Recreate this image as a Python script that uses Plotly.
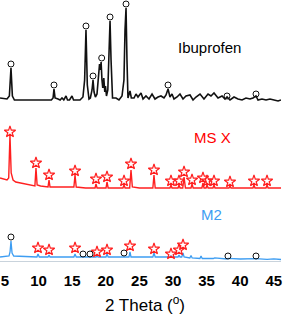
import numpy as np
import plotly.graph_objects as go

# ---------------- data (2-theta in degrees, intensity above each trace's own baseline) ----
ibu_x = [4.26, 5.30, 5.65, 5.89, 6.10, 6.40, 11.90, 12.15, 12.29, 12.45, 12.89, 13.20, 13.48, 13.75,
         14.08, 14.30, 14.60, 14.97, 15.20, 16.16, 16.60, 16.85, 17.05, 17.25, 17.50, 17.70, 17.95,
         18.10, 18.25, 18.45, 18.69, 18.95, 19.07, 19.20, 19.30, 19.43, 19.55, 19.70, 19.85, 19.95,
         20.10, 20.30, 20.48, 20.63, 20.78, 21.00, 21.52, 21.96, 22.41, 22.70, 22.86, 23.01, 23.15,
         23.30, 23.60, 23.80, 24.20, 24.49, 24.79, 25.24, 25.54, 25.98, 26.43, 26.88, 27.32, 27.77,
         28.21, 28.66, 28.96, 29.26, 29.55, 29.85, 30.15, 30.60, 31.04, 31.49, 31.93, 32.53, 32.98,
         33.42, 34.02, 34.61, 35.21, 35.65, 36.10, 36.70, 37.30, 37.74, 38.04, 38.48, 39.08, 39.67,
         40.27, 40.86, 41.46, 41.90, 42.35, 42.65, 43.24, 43.84, 44.43, 45.03, 45.63, 46.07]
ibu_y = [2, 1, 4, 32, 4, 0, 0, 2, 11, 2, 1, 0, 2, 0,
         4, 0, 0, 4, 0, 0, 3, 20, 70, 15, 1, 2, 10,
         20, 8, 3, 6, 30, 36, 30, 38, 20, 12, 22, 8, 14,
         4, 10, 60, 79, 40, 2, 2, 0, 4, 20, 70, 92, 40,
         2, 9, 2, 2, 6, 3, 7, 1, 4, 1, 6, 1, 3,
         4, 2, 5, 11, 3, 6, 1, 3, 6, 1, 4, 5, 0,
         3, 6, 1, 6, 4, 7, 2, 4, 1, 3, 0, 3, 1,
         0, 2, 1, 2, 4, 0, 1, 0, 1, 0, -1, 0]
ibu_mark_x = [5.89, 12.29, 17.05, 18.10, 19.39, 20.63, 23.01, 29.26, 38.04, 42.35]
ibu_mark_y = [36, 15, 74, 24, 42, 83, 96, 15, 4, 6]

msx_x = [4.26, 5.30, 5.55, 5.74, 5.92, 6.20, 6.60, 7.23, 8.72, 9.45, 9.61, 9.78, 10.30, 11.40,
         11.55, 11.70, 13.00, 15.25, 15.42, 15.60, 17.00, 18.40, 18.54, 18.70, 20.03, 20.18, 20.35,
         22.55, 22.71, 22.87, 23.55, 23.75, 23.95, 25.00, 27.00, 27.17, 27.35, 29.55, 29.70, 29.85,
         30.75, 30.89, 31.05, 31.45, 31.64, 31.85, 32.68, 32.83, 33.00, 34.30, 34.46, 34.62, 34.92,
         35.06, 35.22, 35.95, 36.10, 36.25, 38.33, 38.48, 38.63, 41.90, 42.05, 42.20, 43.84, 43.99,
         44.15, 46.07]
msx_y = [10, 8, 10, 53, 15, 8, 6, 5, 3, 2, 20, 3, 2, 1,
         8, 1, 1, 1, 13, 1, 0, 0, 4, 0, 0, 6, 0,
         0, 3, 0, 0, 18, 1, 0, 0, 13, 0, 0, 3, 0,
         0, 3, 0, 0, 11, 0, 0, 4, 0, 0, 5, 0, 0,
         3, 0, 0, 3, 0, 0, 2, 0, 0, 3, 0, 0, 3,
         0, 0]
msx_mark_x = [5.74, 9.61, 11.55, 15.42, 18.54, 20.18, 22.71, 23.75, 27.17, 29.70, 30.89, 31.64,
              32.83, 34.46, 35.06, 36.10, 38.48, 42.05, 43.99]
msx_mark_y = [56, 25, 13, 17, 9, 11, 7, 24, 18, 7, 7, 16, 8, 10, 7, 7, 6, 7, 7]

m2_x = [4.26, 5.60, 5.75, 5.89, 6.05, 6.30, 9.75, 9.91, 10.10, 11.40, 11.55, 11.70, 15.25, 15.42,
        15.60, 18.55, 18.69, 18.85, 20.03, 20.18, 20.35, 23.45, 23.60, 23.75, 27.00, 27.17, 27.35,
        29.55, 29.70, 29.85, 30.75, 30.89, 31.05, 31.30, 31.49, 31.65, 32.50, 32.68, 32.85, 34.00,
        34.17, 34.35, 36.00, 36.20, 38.00, 38.20, 40.00, 42.30, 44.00, 45.00, 46.07]
m2_y = [0, 1, 5, 16, 4, 1, 0, 3, 0, 0, 2, 0, 0, 3,
        0, 0, 1, 0, 0, 3, 0, 0, 5, 0, 0, 4, 0,
        0, 1, 0, 0, 2, 0, 0, 4, 0, -1, 1.5, -1, -1.5,
        1, -1.5, -1.5, -0.8, -2, -1.4, -2, -1.6, -2.3, -1.8, -2.5]
m2_star_x = [9.91, 11.55, 15.42, 18.69, 20.18, 23.60, 27.17, 29.70, 30.89, 31.49]
m2_star_y = [9, 7, 9, 5, 7, 11, 8, 3, 7, 12]
m2_circ_x = [5.89, 16.61, 17.65, 22.71, 38.18, 42.35]
m2_circ_y = [20, 3, 3, 4, 1, 1]

tick_vals = [5, 10, 15, 20, 25, 30, 35, 40, 45]
tick_text = ["5", "10", "15", "20", "25", "30", "35", "40", "45"]
labels = ["Ibuprofen", "MS X", "M2"]

# ---------------- styling / layout -------------
BLACK = "#111111"
RED = "#ff1f1f"
BLUE = "#3d9df2"
off_ibu, off_msx, off_m2 = 161, 73, 4

def shift(v, off):
    return (np.array(v, dtype=float) + off).tolist()

fig = go.Figure()
fig.add_trace(go.Scatter(x=ibu_x, y=shift(ibu_y, off_ibu), mode="lines",
                         line=dict(color=BLACK, width=1.6), hoverinfo="skip"))
fig.add_trace(go.Scatter(x=msx_x, y=shift(msx_y, off_msx), mode="lines",
                         line=dict(color=RED, width=1.4), hoverinfo="skip"))
fig.add_trace(go.Scatter(x=m2_x, y=shift(m2_y, off_m2), mode="lines",
                         line=dict(color=BLUE, width=1.3), hoverinfo="skip"))

circ = dict(symbol="circle-open", size=6, color=BLACK, line=dict(width=1, color=BLACK))
star = dict(symbol="star-open", size=8.5, color=RED, line=dict(width=1.2, color=RED))
fig.add_trace(go.Scatter(x=ibu_mark_x, y=shift(ibu_mark_y, off_ibu), mode="markers", marker=circ,
                         cliponaxis=False))
fig.add_trace(go.Scatter(x=msx_mark_x, y=shift(msx_mark_y, off_msx), mode="markers", marker=star))
fig.add_trace(go.Scatter(x=m2_star_x, y=shift(m2_star_y, off_m2), mode="markers", marker=star))
fig.add_trace(go.Scatter(x=m2_circ_x, y=shift(m2_circ_y, off_m2), mode="markers", marker=circ))

lab_font = "Arial, Liberation Sans, sans-serif"
for txt, xx, yy, col in [(labels[0], 35.5, 214, "#000000"),
                         (labels[1], 35.95, 124, "#ff0000"),
                         (labels[2], 35.8, 47, BLUE)]:
    fig.add_annotation(x=xx, y=yy, xref="x", yref="y", text=txt, showarrow=False,
                       font=dict(family=lab_font, size=15, color=col))

fig.add_annotation(x=25.83, y=(261 - 304) / 261, xref="x", yref="paper", yanchor="middle",
                   text="2 Theta (<sup>o</sup>)", showarrow=False,
                   font=dict(family=lab_font, size=17, color="#000000"))

fig.update_layout(
    width=286, height=318,
    margin=dict(l=0, r=5, t=0, b=57, autoexpand=False),
    paper_bgcolor="white", plot_bgcolor="white",
    showlegend=False,
    xaxis=dict(range=[4.256, 46.07], tickvals=tick_vals, ticktext=tick_text,
               showgrid=False, zeroline=False, showline=True, linecolor="#c9d3dc", linewidth=1,
               ticks="", automargin=False, ticklabelstandoff=6,
               tickfont=dict(family=lab_font, size=15, color="#000000", weight="bold")),
    yaxis=dict(range=[0, 261], visible=False, showgrid=False, zeroline=False, automargin=False),
)

fig.write_html("out.html", config={"displayModeBar": False},
               post_script="document.body.style.margin='0';document.body.style.padding='0';")
